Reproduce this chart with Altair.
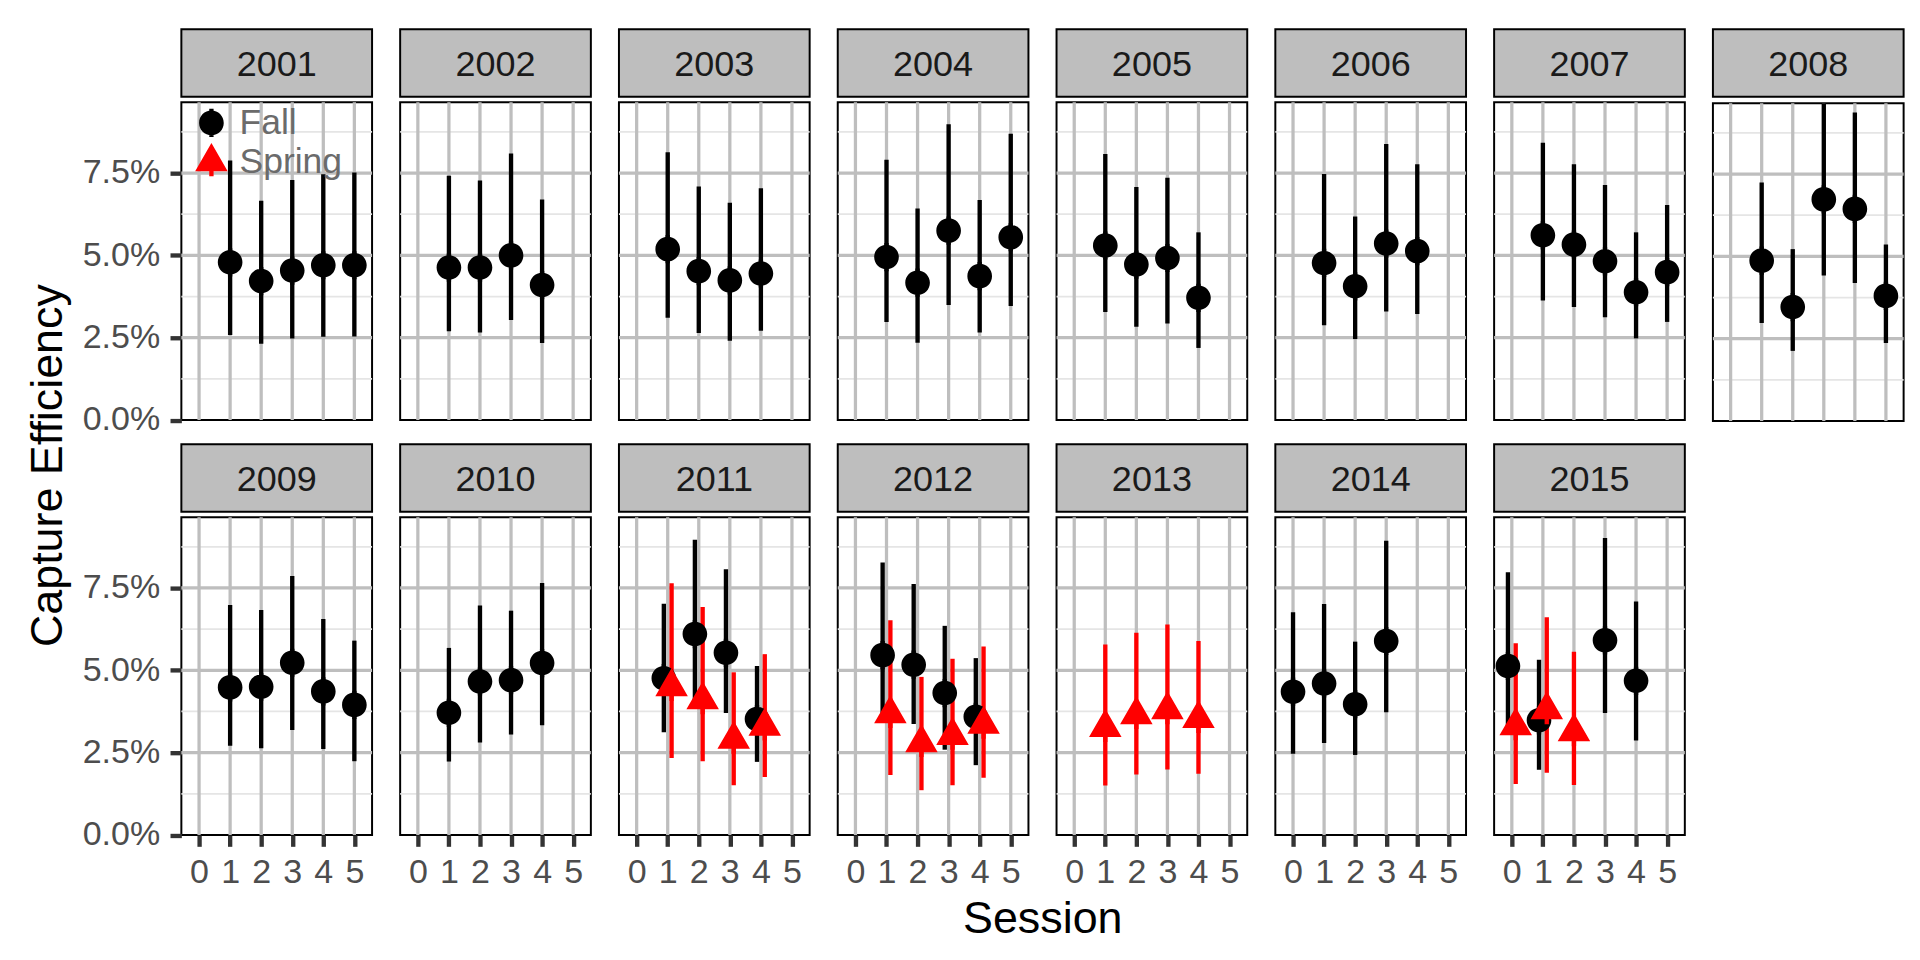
import altair as alt
import numpy as np
import pandas as pd

FONT = "Liberation Sans"

YEARS = [2001, 2002, 2003, 2004, 2005, 2006, 2007, 2008,
         2009, 2010, 2011, 2012, 2013, 2014, 2015]

# ---- Fall series (values in %) ----
FALL_YEAR = [2001, 2001, 2001, 2001, 2001,
             2002, 2002, 2002, 2002,
             2003, 2003, 2003, 2003,
             2004, 2004, 2004, 2004, 2004,
             2005, 2005, 2005, 2005,
             2006, 2006, 2006, 2006,
             2007, 2007, 2007, 2007, 2007,
             2008, 2008, 2008, 2008, 2008,
             2009, 2009, 2009, 2009, 2009,
             2010, 2010, 2010, 2010,
             2011, 2011, 2011, 2011,
             2012, 2012, 2012, 2012,
             2014, 2014, 2014, 2014,
             2015, 2015, 2015, 2015]
FALL_SESSION = [1, 2, 3, 4, 5,
                1, 2, 3, 4,
                1, 2, 3, 4,
                1, 2, 3, 4, 5,
                1, 2, 3, 4,
                1, 2, 3, 4,
                1, 2, 3, 4, 5,
                1, 2, 3, 4, 5,
                1, 2, 3, 4, 5,
                1, 2, 3, 4,
                1, 2, 3, 4,
                1, 2, 3, 4,
                0, 1, 2, 3,
                0, 1, 3, 4]
FALL_EST = [4.79, 4.22, 4.54, 4.70, 4.70,
            4.63, 4.63, 5.00, 4.10,
            5.19, 4.52, 4.24, 4.45,
            4.95, 4.17, 5.75, 4.37, 5.55,
            5.30, 4.72, 4.92, 3.71,
            4.77, 4.06, 5.36, 5.13,
            5.61, 5.33, 4.82, 3.88, 4.49,
            4.87, 3.46, 6.73, 6.44, 3.80,
            4.48, 4.50, 5.23, 4.36, 3.95,
            3.71, 4.66, 4.70, 5.22,
            4.76, 6.10, 5.53, 3.52,
            5.46, 5.17, 4.31, 3.59,
            4.35, 4.60, 3.97, 5.89,
            5.13, 3.48, 5.91, 4.68]
FALL_LO = [2.58, 2.32, 2.48, 2.53, 2.54,
           2.70, 2.66, 3.04, 2.34,
           3.11, 2.64, 2.41, 2.71,
           2.98, 2.35, 3.49, 2.66, 3.46,
           3.28, 2.83, 2.93, 2.19,
           2.88, 2.46, 3.30, 3.22,
           3.63, 3.43, 3.12, 2.48, 2.98,
           2.98, 2.13, 4.42, 4.19, 2.37,
           2.71, 2.63, 3.19, 2.61, 2.24,
           2.23, 2.81, 3.05, 3.33,
           3.12, 4.00, 3.70, 2.22,
           3.50, 3.37, 2.59, 2.12,
           2.47, 2.79, 2.43, 3.73,
           3.05, 1.98, 3.70, 2.87]
FALL_HI = [7.88, 6.66, 7.29, 7.46, 7.52,
           7.42, 7.27, 8.09, 6.70,
           8.13, 7.09, 6.60, 7.04,
           7.90, 6.42, 8.98, 6.68, 8.69,
           8.08, 7.08, 7.36, 5.70,
           7.47, 6.18, 8.38, 7.77,
           8.42, 7.77, 7.14, 5.70, 6.53,
           7.24, 5.22, 9.65, 9.37, 5.36,
           6.98, 6.83, 7.86, 6.56, 5.90,
           5.68, 6.97, 6.81, 7.65,
           7.02, 8.96, 8.07, 5.13,
           8.27, 7.62, 6.35, 5.37,
           6.76, 7.01, 5.87, 8.93,
           7.98, 5.32, 9.02, 7.09]

# ---- Spring series (values in %) ----
SPRING_YEAR = [2011, 2011, 2011, 2011,
               2012, 2012, 2012, 2012,
               2013, 2013, 2013, 2013,
               2015, 2015, 2015]
SPRING_SESSION = [1, 2, 3, 4,
                  1, 2, 3, 4,
                  1, 2, 3, 4,
                  0, 1, 2]
SPRING_EST = [4.50, 4.10, 2.90, 3.30,
              3.68, 2.80, 3.02, 3.36,
              3.26, 3.65, 3.80, 3.53,
              3.31, 3.80, 3.13]
SPRING_LO = [2.34, 2.24, 1.51, 1.76,
             1.82, 1.36, 1.51, 1.74,
             1.50, 1.84, 1.99, 1.86,
             1.55, 1.89, 1.52]
SPRING_HI = [7.64, 6.92, 4.94, 5.49,
             6.52, 4.80, 5.35, 5.72,
             5.78, 6.14, 6.39, 5.89,
             5.82, 6.61, 5.56]

TYPES = ["Fall", "Spring"]
TYPE_COLORS = ["#000000", "#ff0000"]

Y_TICKS = [0.0, 2.5, 5.0, 7.5]
MAJOR_GRID_Y = [2.5, 5.0, 7.5]
MINOR_GRID_Y = [1.25, 3.75, 6.25, 8.75]
X_TICKS = [0, 1, 2, 3, 4, 5]

# ---- style constants ----
W, H, SH = 193.5, 322.5, 68.5
X_DOMAIN = [-0.57, 5.57]
Y_DOMAIN = [0, 0.0965]
DODGE = 0.125
GRID_MAJOR = "#bebebe"
GRID_MINOR = "#e5e5e5"
STRIP_FILL = "#bebebe"

# custom glyphs (unit box scaled by sqrt(size)/2); include the legend's range stub
CIRCLE = ("M0.758,0A0.758,0.758 0 1,1 -0.758,0A0.758,0.758 0 1,1 0.758,0Z "
          "M-0.133,-0.867L0.133,-0.867L0.133,0.867L-0.133,0.867Z")
TRIANGLE = ("M0,-1.155L1,0.577L-1,0.577Z "
            "M-0.133,0L0.133,0L0.133,0.88L-0.133,0.88Z")

fall = pd.DataFrame({"year": FALL_YEAR, "session": FALL_SESSION,
                     "est": FALL_EST, "lo": FALL_LO, "hi": FALL_HI, "type": "Fall"})
spring = pd.DataFrame({"year": SPRING_YEAR, "session": SPRING_SESSION,
                       "est": SPRING_EST, "lo": SPRING_LO, "hi": SPRING_HI, "type": "Spring"})
df = pd.concat([fall, spring], ignore_index=True)
for c in ["est", "lo", "hi"]:
    df[c] = df[c] / 100.0
n = df.groupby(["year", "session"])["type"].transform("count")
df["xpos"] = df["session"] + np.where(n > 1, np.where(df["type"] == "Fall", -DODGE, DODGE), 0.0)

minor_df = pd.DataFrame({"v": [v / 100 for v in MINOR_GRID_Y]})
majory_df = pd.DataFrame({"v": [v / 100 for v in MAJOR_GRID_Y]})
majorx_df = pd.DataFrame({"s": X_TICKS})

xs = alt.Scale(domain=X_DOMAIN, nice=False, zero=False)
ys = alt.Scale(domain=Y_DOMAIN, nice=False, zero=False)
cs = alt.Scale(domain=TYPES, range=TYPE_COLORS)
# same mapping for the range lines, listed in reverse so it is kept apart from the legend
stroke_scale = alt.Scale(domain=TYPES[::-1], range=TYPE_COLORS[::-1])
ss = alt.Scale(domain=TYPES, range=[CIRCLE, TRIANGLE])

TICK = dict(tickSize=11.5, tickWidth=4.4, tickColor="#333333", grid=False, domain=False,
            labelFont=FONT, labelFontSize=34.5, labelColor="#4d4d4d",
            labelFlush=False, labelOverlap=False, title=None)


def panel(year, col, row):
    d = df[df["year"] == year]
    yaxis = alt.Axis(values=[v / 100 for v in Y_TICKS], format=".1%", labelPadding=10.5, **TICK) if col == 0 else None
    xaxis = alt.Axis(values=X_TICKS, format="d", labelPadding=9.5, **TICK) if row == 1 else None
    leg = None
    if year == YEARS[0]:
        leg = alt.Legend(orient="none", legendX=12.5, legendY=3, title=None,
                         labelFont=FONT, labelFontSize=36, labelColor="#6b6b6b",
                         symbolSize=1089, symbolStrokeWidth=0, symbolOpacity=1,
                         labelOffset=10.5, rowPadding=1.5, padding=0)

    minor = alt.Chart(minor_df).mark_rule(color=GRID_MINOR, strokeWidth=1.8).encode(
        y=alt.Y("v:Q", scale=ys, axis=yaxis))
    majory = alt.Chart(majory_df).mark_rule(color=GRID_MAJOR, strokeWidth=3.3).encode(
        y=alt.Y("v:Q", scale=ys, axis=yaxis))
    majorx = alt.Chart(majorx_df).mark_rule(color=GRID_MAJOR, strokeWidth=3.3).encode(
        x=alt.X("s:Q", scale=xs, axis=xaxis))
    bars = alt.Chart(d).mark_rule(strokeWidth=4.4).encode(
        x=alt.X("xpos:Q", scale=xs, axis=xaxis),
        y=alt.Y("lo:Q", scale=ys, axis=yaxis),
        y2="hi:Q",
        stroke=alt.Stroke("type:N", scale=stroke_scale, legend=None))
    pts = alt.Chart(d).mark_point(filled=True, size=1089, opacity=1, strokeWidth=0).encode(
        x=alt.X("xpos:Q", scale=xs, axis=xaxis),
        y=alt.Y("est:Q", scale=ys, axis=yaxis),
        color=alt.Color("type:N", scale=cs, legend=leg),
        shape=alt.Shape("type:N", scale=ss, legend=leg))
    plot = alt.layer(minor, majory, majorx, bars, pts).properties(
        width=W, height=H,
        view=alt.ViewBackground(fill="white", stroke="black", strokeWidth=2))

    lab = pd.DataFrame({"label": [str(year)]})
    box = alt.Chart(lab).mark_rect(fill=STRIP_FILL, stroke="black", strokeWidth=2).encode(
        x=alt.value(0), x2=alt.value(W), y=alt.value(0), y2=alt.value(SH))
    txt = alt.Chart(lab).mark_text(font=FONT, fontSize=36.5, color="#1a1a1a").encode(
        x=alt.value(W / 2), y=alt.value(SH / 2 + 2), text="label:N")
    strip = alt.layer(box, txt).properties(width=W, height=SH)
    return alt.vconcat(strip, plot, spacing=1).resolve_scale(
        color="independent", shape="independent", stroke="independent")


def indep(c):
    return c.resolve_scale(color="independent", shape="independent", stroke="independent")


row1 = indep(alt.hconcat(*[panel(y, i, 0) for i, y in enumerate(YEARS[:8])], spacing=22))
row2 = indep(alt.hconcat(*[panel(y, i, 1) for i, y in enumerate(YEARS[8:])], spacing=22))

# row spacing measured from the bottom of the "0.0%" label, which overhangs the panel
inner = indep(alt.vconcat(row1, row2, spacing=6)).properties(
    title=alt.TitleParams("Capture Efficiency", orient="left", anchor="middle", font=FONT,
                          fontSize=45.5, fontWeight="normal", color="#000000", offset=10, dx=-6.7))

chart = indep(alt.vconcat(inner)).properties(
    title=alt.TitleParams("Session", orient="bottom", anchor="middle", font=FONT,
                          fontSize=45.5, fontWeight="normal", color="#000000", offset=8.4, dx=77.5),
    padding={"left": 17.9, "top": 13.7, "right": 5, "bottom": 2},
).configure(font=FONT).configure_view(stroke=None)

chart.save("out.html", embed_options={"renderer": "svg", "actions": False})
